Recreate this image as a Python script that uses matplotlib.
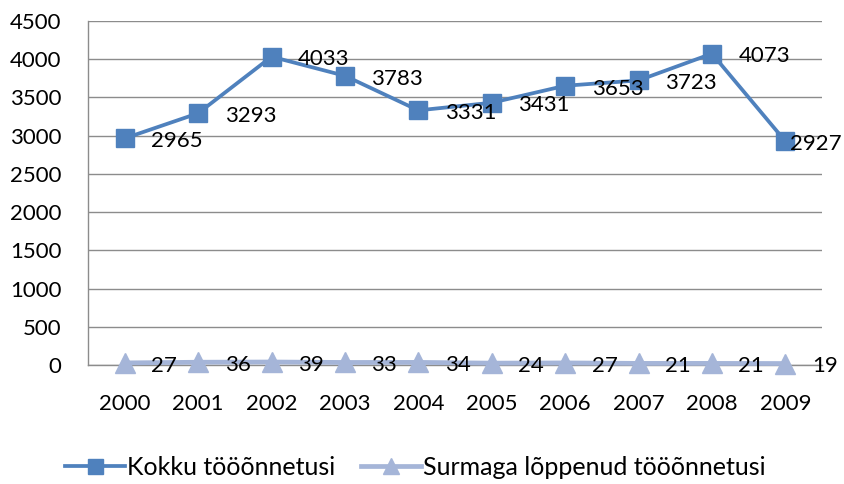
import matplotlib.pyplot as plt

plt.rcParams['font.family'] = ['Lato', 'DejaVu Sans']

# data
years = ["2000", "2001", "2002", "2003", "2004", "2005", "2006", "2007", "2008", "2009"]
total = [2965, 3293, 4033, 3783, 3331, 3431, 3653, 3723, 4073, 2927]
fatal = [27, 36, 39, 33, 34, 24, 27, 21, 21, 19]
labels = ["Kokku tööõnnetusi", "Surmaga lõppenud tööõnnetusi"]

c_total = "#4F81BD"
c_fatal = "#A5B5D8"

fig = plt.figure(figsize=(8.44, 4.84), dpi=100)
ax = fig.add_axes([0.1043, 0.2459, 0.8697, 0.7107])

x = list(range(len(years)))
ax.plot(x, total, color=c_total, lw=2.7, marker="s", ms=13.5, label=labels[0],
        zorder=3, clip_on=False)
ax.plot(x, fatal, color=c_fatal, lw=3.4, marker="^", ms=14.5, label=labels[1],
        zorder=3, clip_on=False)

# data labels to the right of each marker (last one pushed in to fit, like excel does)
for i, v in enumerate(total):
    dx = 3 if i == len(total) - 1 else 19
    ax.annotate(str(v), (i, v), xytext=(dx, -2), textcoords="offset points",
                ha="left", va="center", fontsize=16, zorder=4)
for i, v in enumerate(fatal):
    ax.annotate(str(v), (i, v), xytext=(19, -2), textcoords="offset points",
                ha="left", va="center", fontsize=16, zorder=4)

ax.set_xlim(-0.5, 9.5)
ax.set_ylim(0, 4500)
ax.set_yticks(range(0, 4501, 500))
ax.set_xticks(x)
ax.set_xticklabels(years)
ax.tick_params(axis="both", length=0, labelsize=16)
ax.tick_params(axis="x", pad=21)
ax.tick_params(axis="y", pad=19)

ax.grid(axis="y", color="#8C8C8C", lw=1.0)
ax.set_axisbelow(True)
for s in ["top", "right"]:
    ax.spines[s].set_visible(False)
for s in ["left", "bottom"]:
    ax.spines[s].set_color("#8C8C8C")
    ax.spines[s].set_linewidth(1.0)

fig.legend(loc="center", bbox_to_anchor=(0.492, 0.035), ncol=2, frameon=False,
           fontsize=18, handlelength=2.4, handletextpad=0.1, columnspacing=1.0,
           markerscale=0.8)

fig.savefig("out.png", dpi=100)
